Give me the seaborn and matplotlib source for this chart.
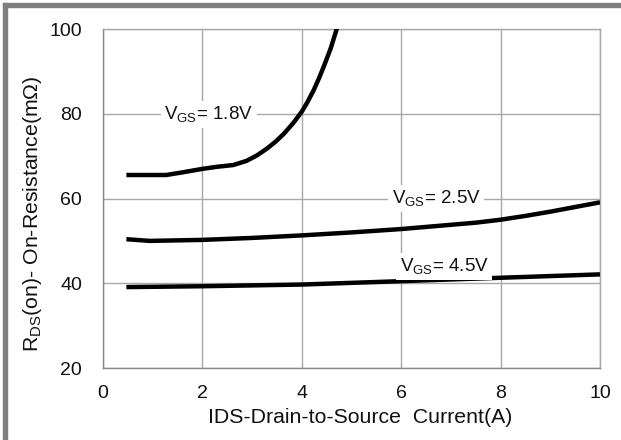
import numpy as np
import pandas as pd
import matplotlib
matplotlib.use("Agg")
import matplotlib.pyplot as plt
from matplotlib.patches import Rectangle
import seaborn as sns

# curves
ids_18 = [0.47, 1.27, 1.61, 2.0, 2.3, 2.62, 2.89, 3.1, 3.30, 3.47, 3.64,
          3.82, 4.0, 4.12, 4.24, 4.35, 4.45, 4.58, 4.71]
rds_18 = [65.55, 65.55, 66.2, 67.0, 67.5, 67.9, 68.9, 70.2, 71.8, 73.4, 75.3,
          77.7, 80.5, 82.9, 85.6, 88.5, 91.4, 95.4, 100.3]

ids_25 = [0.47, 0.94, 2.0, 3.0, 4.0, 5.0, 6.0, 7.0, 7.5, 8.0, 8.5, 9.0, 9.5, 10.0]
rds_25 = [50.4, 50.0, 50.24, 50.7, 51.3, 52.0, 52.8, 53.8, 54.3, 55.0, 55.9, 56.9, 58.0, 59.1]

ids_45 = [0.47, 2.0, 4.0, 6.0, 8.0, 10.0]
rds_45 = [39.1, 39.3, 39.7, 40.5, 41.3, 42.1]

vgs_labels = ["1.8V", "2.5V", "4.5V"]
label_pos = [(2.13, 79.8), (6.7, 60.0), (6.87, 43.9)]

xticks = [0, 2, 4, 6, 8, 10]
yticks = [20, 40, 60, 80, 100]

df = pd.concat([
    pd.DataFrame({"ids": ids_18, "rds": rds_18, "vgs": vgs_labels[0]}),
    pd.DataFrame({"ids": ids_25, "rds": rds_25, "vgs": vgs_labels[1]}),
    pd.DataFrame({"ids": ids_45, "rds": rds_45, "vgs": vgs_labels[2]}),
])

sns.set_style("white")
plt.rcParams["font.family"] = ["Liberation Sans", "DejaVu Sans"]
plt.rcParams["mathtext.fontset"] = "custom"
plt.rcParams["mathtext.rm"] = "Liberation Sans"

fig = plt.figure(figsize=(6.21, 4.40), dpi=100)
ax = fig.add_axes([0.1659, 0.1636, 0.8003, 0.7704])

sns.lineplot(data=df, x="ids", y="rds", hue="vgs", palette=["black"] * 3,
             linewidth=3.2, legend=False, ax=ax, sort=False, zorder=3)
for ln in ax.lines:
    ln.set_solid_capstyle("butt")
    ln.set_solid_joinstyle("round")

ax.set_xlim(0, 10)
ax.set_ylim(20, 100)
ax.set_xticks(xticks)
ax.set_yticks(yticks)
ax.grid(True, color="#a8a8a8", linewidth=1.0)
ax.set_axisbelow(True)
for side, sp in ax.spines.items():
    sp.set_color("#a8a8a8" if side in ("top", "right") else "#888888")
    sp.set_linewidth(1.0)
ax.tick_params(axis="both", length=0, labelsize=14, colors="#111111")
ax.tick_params(axis="x", pad=12)
ax.tick_params(axis="y", pad=15)

ax.set_xlabel("IDS-Drain-to-Source  Current(A)", fontsize=15.3, color="#111111")
ax.set_ylabel(r"R$_{\mathregular{DS}}$(on)- On-Resistance(m$\Omega$)", fontsize=15.3, color="#111111")
ax.xaxis.set_label_coords(0.517, -0.118)
ax.yaxis.set_label_coords(-0.119, 0.455)

for lab, (lx, ly) in zip(vgs_labels, label_pos):
    ax.text(lx, ly, r"V$_{\mathregular{GS}}$= " + lab, fontsize=13.5, color="#111111",
            ha="center", va="center", zorder=4,
            bbox=dict(facecolor="white", edgecolor="none", pad=2.5))

# grey frame along the top and left edges of the picture
fig.patches.append(Rectangle((2.5 / 621, 0), 4.5 / 621, 1 - 3 / 440,
                             transform=fig.transFigure, color="#808080", zorder=0))
fig.patches.append(Rectangle((2.5 / 621, 1 - 7.5 / 440), 1, 4.5 / 440,
                             transform=fig.transFigure, color="#808080", zorder=0))

fig.savefig("out.png", dpi=100)
